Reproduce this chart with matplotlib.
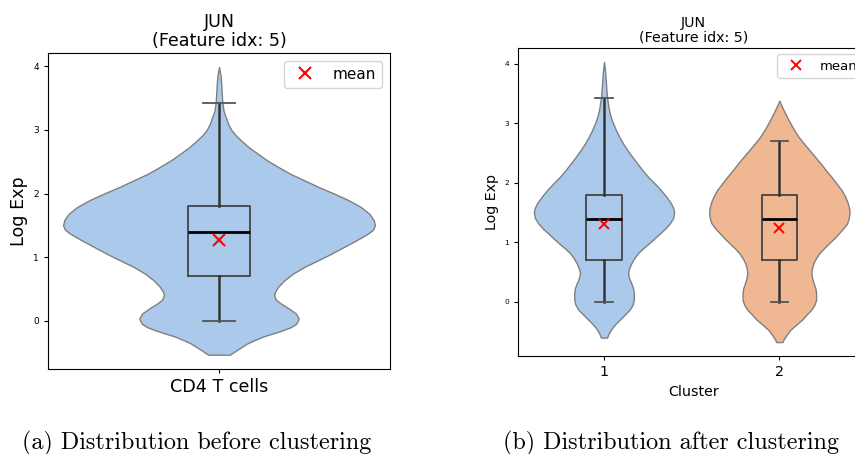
import matplotlib
matplotlib.use("Agg")
import matplotlib.pyplot as plt
import numpy as np

# ---- data ----
title = "JUN\n(Feature idx: 5)"

# left panel: all CD4 T cells
all_y = [3.99, 3.85, 3.70, 3.55, 3.44, 3.30, 3.21, 3.10, 3.00, 2.92, 2.84, 2.73, 2.63,
         2.52, 2.42, 2.31, 2.21, 2.10, 2.00, 1.90, 1.79, 1.68, 1.58, 1.50, 1.43, 1.37,
         1.27, 1.16, 1.05, 0.95, 0.85, 0.74, 0.63, 0.53, 0.45, 0.40, 0.33, 0.27, 0.19,
         0.11, 0.04, 0.00, -0.05, -0.10, -0.15, -0.20, -0.25, -0.31, -0.36, -0.42,
         -0.48, -0.535]
all_dens = [0, .010, .015, .018, .021, .029, .042, .058, .079, .105, .139, .190, .246,
            .310, .378, .457, .545, .641, .737, .827, .908, .965, .992, 1.0, .987, .955,
            .885, .801, .718, .635, .551, .474, .417, .378, .358, .353, .365, .397, .449,
            .494, .510, .506, .494, .462, .410, .346, .282, .224, .179, .141, .103, .069]
all_stats = dict(q1=0.70, med=1.39, q3=1.80, whislo=0.0, whishi=3.43, mean=1.27)

# right panel: clusters
c1_y = [4.03, 3.85, 3.65, 3.43, 3.22, 3.10, 3.00, 2.88, 2.77, 2.66, 2.55, 2.44, 2.33,
        2.21, 2.10, 1.99, 1.88, 1.77, 1.66, 1.58, 1.50, 1.41, 1.32, 1.23, 1.15, 1.06,
        0.98, 0.90, 0.82, 0.73, 0.65, 0.56, 0.48, 0.40, 0.31, 0.23, 0.15, 0.03, -0.05,
        -0.13, -0.21, -0.30, -0.37, -0.44, -0.52, -0.60]
c1_px = [0, 1.2, 2, 3, 5, 6.8, 9, 12, 15.3, 19, 23.3, 28, 33, 38.5, 44, 50.5, 56.7, 62,
         66.7, 69, 70, 69, 65.7, 61, 55.7, 50, 44.7, 39, 34, 30, 27.3, 25, 24, 25, 27.3,
         29, 29.7, 29.7, 28.5, 25.7, 21, 15.7, 11.5, 8, 5, 3]
c2_y = [3.38, 3.30, 3.22, 3.11, 3.00, 2.88, 2.77, 2.66, 2.55, 2.44, 2.33, 2.21, 2.10,
        1.99, 1.88, 1.77, 1.66, 1.57, 1.49, 1.40, 1.32, 1.23, 1.15, 1.06, 0.98, 0.90,
        0.82, 0.73, 0.65, 0.56, 0.48, 0.40, 0.31, 0.23, 0.15, 0.03, -0.05, -0.13, -0.21,
        -0.30, -0.38, -0.47, -0.56, -0.64, -0.676]
c2_px = [0, 2, 4.3, 7.5, 11, 15, 19.3, 24.5, 30, 35.5, 41, 46.5, 52, 57, 62, 65.7, 68.3,
         69.7, 70, 69.3, 67.7, 63.7, 59.3, 54.3, 49.3, 44.5, 40, 36.5, 34, 32.5, 32, 32.7,
         34.3, 36, 36.7, 36.7, 35, 32, 27.5, 22.7, 17, 11, 7, 4, 3]
c1_dens = [v / 70.0 for v in c1_px]
c2_dens = [v / 70.0 for v in c2_px]
c1_stats = dict(q1=0.70, med=1.39, q3=1.80, whislo=0.0, whishi=3.43, mean=1.30)
c2_stats = dict(q1=0.70, med=1.39, q3=1.80, whislo=0.0, whishi=2.71, mean=1.24)
cluster_labels = ["1", "2"]

blue = "#abc9ea"
orange = "#efb792"


def draw_violin(ax, pos, ys, dens, half, color):
    ys = np.array(ys)
    hw = np.array(dens) * half
    ax.fill_betweenx(ys, pos - hw, pos + hw, facecolor=color,
                     edgecolor="#7f7f7f", linewidth=1.0, zorder=1)


def draw_box(ax, stats, positions, width, capw):
    ax.bxp(stats, positions=positions, widths=width, capwidths=capw,
           showfliers=False, showmeans=False, manage_ticks=False,
           boxprops=dict(color="#444444", linewidth=1.3),
           whiskerprops=dict(color="#333333", linewidth=1.8),
           capprops=dict(color="#555555", linewidth=1.3),
           medianprops=dict(color="black", linewidth=2.0), zorder=2)


fig = plt.figure(figsize=(8.55, 4.54), dpi=100)

# ---- left panel ----
ax1 = fig.add_axes([48 / 855, 85 / 454, 342 / 855, 316 / 454])
draw_violin(ax1, 0, all_y, all_dens, 0.456, blue)
draw_box(ax1, [all_stats], [0], 0.18, 0.093)
ax1.plot([0], [all_stats["mean"]], linestyle="none", marker="x", color="red",
         markersize=8.5, markeredgewidth=1.5, label="mean", zorder=3)
ax1.set_xlim(-0.5, 0.5)
ax1.set_ylim(-0.76, 4.21)
ax1.set_xticks([0])
ax1.set_xticklabels(["CD4 T cells"], fontsize=12.6)
ax1.set_yticks([0, 1, 2, 3, 4])
ax1.tick_params(axis="y", labelsize=6.5, length=3)
ax1.tick_params(axis="x", length=3)
ax1.set_ylabel("Log Exp", fontsize=12.6)
ax1.set_title(title, fontsize=12.6, linespacing=1.08, pad=5)
ax1.legend(loc="upper right", fontsize=11)

# ---- right panel ----
ax2 = fig.add_axes([518.3 / 855, 98 / 454, 350.6 / 855, 308.3 / 454])
draw_violin(ax2, 0, c1_y, c1_dens, 0.4, blue)
draw_violin(ax2, 1, c2_y, c2_dens, 0.4, orange)
draw_box(ax2, [c1_stats, c2_stats], [0, 1], 0.2, 0.1)
ax2.plot([0, 1], [c1_stats["mean"], c2_stats["mean"]], linestyle="none", marker="x",
         color="red", markersize=7.5, markeredgewidth=1.4, label="mean", zorder=3)
ax2.set_xlim(-0.489, 1.511)
ax2.set_ylim(-0.91, 4.27)
ax2.set_xticks([0, 1])
ax2.set_xticklabels(cluster_labels, fontsize=10.3)
ax2.set_yticks([0, 1, 2, 3, 4])
ax2.tick_params(axis="y", labelsize=5.3, length=3)
ax2.tick_params(axis="x", length=3)
ax2.set_ylabel("Log Exp", fontsize=10.3)
ax2.set_xlabel("Cluster", fontsize=10.3)
ax2.set_title(title, fontsize=10.3, linespacing=1.05, pad=4.5)
ax2.legend(loc="upper right", fontsize=9.5)

# ---- captions ----
fig.text(197 / 855, 1 - 449 / 454, "(a) Distribution before clustering",
         family="cmr10", fontsize=17.4, ha="center", va="baseline")
fig.text(671 / 855, 1 - 449 / 454, "(b) Distribution after clustering",
         family="cmr10", fontsize=17.4, ha="center", va="baseline")

fig.savefig("out.png", dpi=100)
